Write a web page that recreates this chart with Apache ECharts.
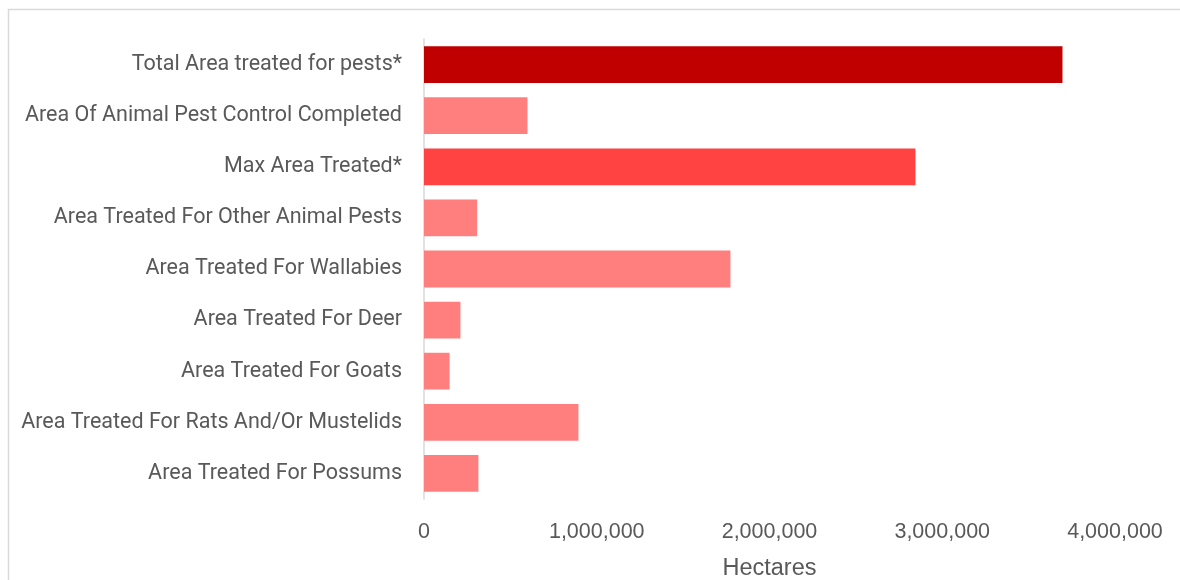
<!DOCTYPE html>
<html>
<head>
<meta charset="utf-8">
<script src="https://cdn.jsdelivr.net/npm/echarts@6/dist/echarts.min.js"></script>
<style>
  html, body { margin: 0; padding: 0; background: #ffffff; }
  #chart { width: 1180px; height: 580px; }
</style>
</head>
<body>
<div id="chart"></div>
<script>
// Categories listed bottom to top (ECharts category y-axis order)
const categories = [
  'Area Treated For Possums',
  'Area Treated For Rats And/Or Mustelids',
  'Area Treated For Goats',
  'Area Treated For Deer',
  'Area Treated For Wallabies',
  'Area Treated For Other Animal Pests',
  'Max Area Treated*',
  'Area Of Animal Pest Control Completed',
  'Total Area treated for pests*'
];
// Hectares per category
const hectares = [315000, 894000, 148000, 211000, 1774000, 308000, 2845000, 599000, 3696000];
// Bar fill per category
const barColors = ['#FF7F7F', '#FF7F7F', '#FF7F7F', '#FF7F7F', '#FF7F7F', '#FF7F7F', '#FF4343', '#FF7F7F', '#C00000'];
const axisTitle = 'Hectares';

const chart = echarts.init(document.getElementById('chart'), null, { renderer: 'canvas' });

chart.setOption({
  animation: false,
  backgroundColor: '#ffffff',
  graphic: [{
    type: 'rect',
    shape: { x: 8.5, y: 9.5, width: 1200, height: 600 },
    style: { fill: 'none', stroke: '#D9D9D9', lineWidth: 1.5 },
    silent: true
  }],
  grid: {
    left: 424, top: 39, width: 691, height: 460,
    containLabel: false,
    outerBoundsMode: 'none'
  },
  xAxis: {
    type: 'value',
    min: 0,
    max: 4000000,
    interval: 1000000,
    axisLine: { show: false },
    axisTick: { show: false },
    splitLine: { show: false },
    axisLabel: {
      margin: 22,
      color: '#595959',
      fontFamily: 'Liberation Sans, Arial, sans-serif',
      fontSize: 21.5,
      formatter: v => v.toLocaleString('en-US')
    },
    name: axisTitle,
    nameLocation: 'middle',
    nameGap: 70,
    nameTextStyle: {
      color: '#595959',
      fontFamily: 'Liberation Sans, Arial, sans-serif',
      fontSize: 23.5,
      verticalAlign: 'middle'
    }
  },
  yAxis: {
    type: 'category',
    data: categories,
    axisLine: { show: true, lineStyle: { color: '#D9D9D9', width: 1.5 } },
    axisTick: { show: false },
    splitLine: { show: false },
    axisLabel: {
      margin: 22,
      color: '#595959',
      fontFamily: 'Roboto, sans-serif',
      fontSize: 21.5,
      padding: [2, 0, 0, 0]
    }
  },
  series: [{
    type: 'bar',
    data: hectares.map((v, i) => ({ value: v, itemStyle: { color: barColors[i] } })),
    barCategoryGap: '28%',
    silent: true
  }]
});
</script>
</body>
</html>
